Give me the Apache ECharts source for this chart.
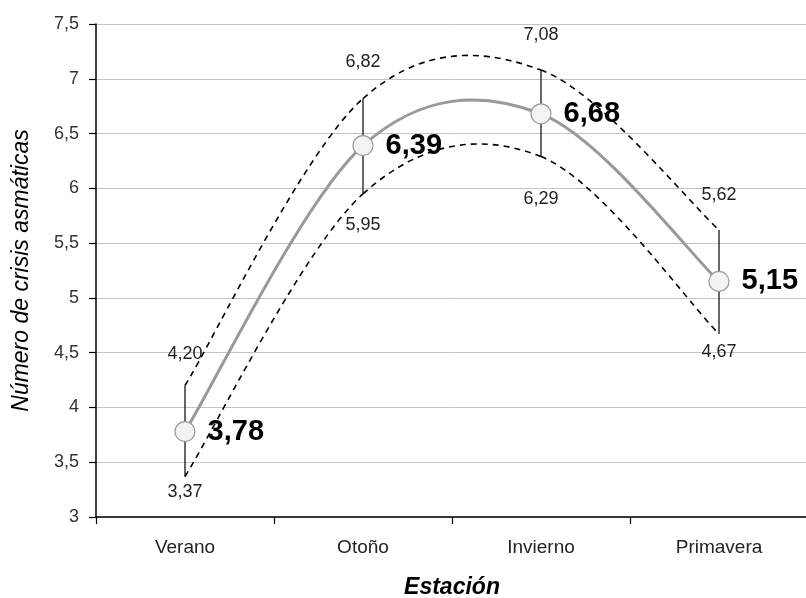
<!DOCTYPE html>
<html>
<head>
<meta charset="utf-8">
<script src="https://cdn.jsdelivr.net/npm/echarts@6/dist/echarts.min.js"></script>
<style>
  html, body { margin: 0; padding: 0; background: #fff; }
  #chart { width: 806px; height: 598px; }
</style>
</head>
<body>
<div id="chart"></div>
<script>
// Seasons and mean number of asthma attacks with their interval limits
const estaciones = ['Verano', 'Otoño', 'Invierno', 'Primavera'];
const media = [3.78, 6.39, 6.68, 5.15];
const limiteSuperior = [4.20, 6.82, 7.08, 5.62];
const limiteInferior = [3.37, 5.95, 6.29, 4.67];

// Value axis range
const yMin = 3;
const yMax = 7.5;
const yPaso = 0.5;

// Label placement for the interval limits (pixels above / below the bar ends)
const sepSuperior = [32, 36, 35, 35];
const sepInferior = [16, 31, 42, 18];

const FONT = "'Liberation Sans', Arial, sans-serif";
const coma = (v, dec) => (dec == null ? String(v) : v.toFixed(dec)).replace('.', ',');

const barras = estaciones.map((_, i) => [i, limiteInferior[i], limiteSuperior[i]]);

// Smoothed curve through a list of values: one cubic Bezier per segment,
// control points taken from the neighbouring points (Catmull-Rom style).
function curvaSuave(nombre, valores, estilo, z) {
  const n = valores.length;
  return {
    name: nombre,
    type: 'custom',
    data: valores.map((v, i) => [i, v]),
    encode: { x: 0, y: 1 },
    z: z,
    silent: true,
    renderItem: (params, api) => {
      const i = params.dataIndex;
      if (i >= n - 1) return null;
      const pt = k => {
        const kk = Math.max(0, Math.min(n - 1, k));
        return api.coord([kk, valores[kk]]);
      };
      const p0 = pt(i - 1), p1 = pt(i), p2 = pt(i + 1), p3 = pt(i + 2);
      return {
        type: 'bezierCurve',
        shape: {
          x1: p1[0], y1: p1[1],
          cpx1: p1[0] + (p2[0] - p0[0]) / 6, cpy1: p1[1] + (p2[1] - p0[1]) / 6,
          cpx2: p2[0] - (p3[0] - p1[0]) / 6, cpy2: p2[1] - (p3[1] - p1[1]) / 6,
          x2: p2[0], y2: p2[1]
        },
        style: Object.assign({ fill: null }, estilo)
      };
    }
  };
}

const chart = echarts.init(document.getElementById('chart'), null, { renderer: 'canvas' });

chart.setOption({
  animation: false,
  backgroundColor: '#fff',
  grid: { left: 96, top: 24, width: 712, bottom: 81, containLabel: false, outerBoundsMode: 'none' },
  xAxis: {
    type: 'category',
    data: estaciones,
    boundaryGap: true,
    name: 'Estación',
    nameLocation: 'middle',
    nameGap: 59,
    nameTextStyle: { fontFamily: FONT, fontSize: 23, fontWeight: 'bold', fontStyle: 'italic', color: '#000' },
    axisLine: { lineStyle: { color: '#000', width: 1.5 } },
    axisTick: { show: true, length: 7, lineStyle: { color: '#000', width: 1.2 } },
    axisLabel: { fontFamily: FONT, fontSize: 19, color: '#222', margin: 21 },
    splitLine: { show: false }
  },
  yAxis: {
    type: 'value',
    min: yMin,
    max: yMax,
    interval: yPaso,
    name: 'Número de crisis asmáticas',
    nameLocation: 'middle',
    nameGap: 63,
    nameTextStyle: { fontFamily: FONT, fontSize: 23, fontStyle: 'italic', color: '#000' },
    axisLine: { show: true, lineStyle: { color: '#000', width: 1.5 } },
    axisTick: { show: true, length: 7, lineStyle: { color: '#000', width: 1.2 } },
    axisLabel: { fontFamily: FONT, fontSize: 18, color: '#333', margin: 17, formatter: v => coma(v) },
    splitLine: { show: true, lineStyle: { color: '#c4c4c4', width: 1 } }
  },
  series: [
    curvaSuave('Límite superior', limiteSuperior, { stroke: '#000', lineWidth: 1.6, lineDash: [6, 5] }, 2),
    curvaSuave('Límite inferior', limiteInferior, { stroke: '#000', lineWidth: 1.6, lineDash: [6, 5] }, 2),
    {
      name: 'Intervalo',
      type: 'custom',
      data: barras,
      encode: { x: 0, y: [1, 2] },
      z: 3,
      silent: true,
      renderItem: (params, api) => {
        const i = params.dataIndex;
        const lo = api.value(1);
        const hi = api.value(2);
        const pTop = api.coord([i, hi]);
        const pBot = api.coord([i, lo]);
        const txt = { fontFamily: FONT, fontSize: 18, fill: '#222', align: 'center', verticalAlign: 'middle' };
        return {
          type: 'group',
          children: [
            { type: 'line', shape: { x1: pTop[0], y1: pTop[1], x2: pBot[0], y2: pBot[1] },
              style: { stroke: '#000', lineWidth: 1.2 } },
            { type: 'text', x: pTop[0], y: pTop[1] - sepSuperior[i],
              style: Object.assign({ text: coma(hi, 2) }, txt) },
            { type: 'text', x: pBot[0], y: pBot[1] + sepInferior[i],
              style: Object.assign({ text: coma(lo, 2) }, txt) }
          ]
        };
      }
    },
    curvaSuave('Media (curva)', media, { stroke: '#999', lineWidth: 3 }, 4),
    {
      name: 'Media',
      type: 'scatter',
      data: media,
      z: 5,
      symbol: 'circle',
      symbolSize: 20,
      itemStyle: { color: '#f3f3f3', borderColor: '#9a9a9a', borderWidth: 1.2, opacity: 1 },
      label: {
        show: true,
        position: 'right',
        distance: 12,
        fontFamily: FONT,
        fontSize: 29,
        fontWeight: 'bold',
        color: '#000',
        formatter: p => coma(p.value, 2)
      }
    }
  ]
});
</script>
</body>
</html>
